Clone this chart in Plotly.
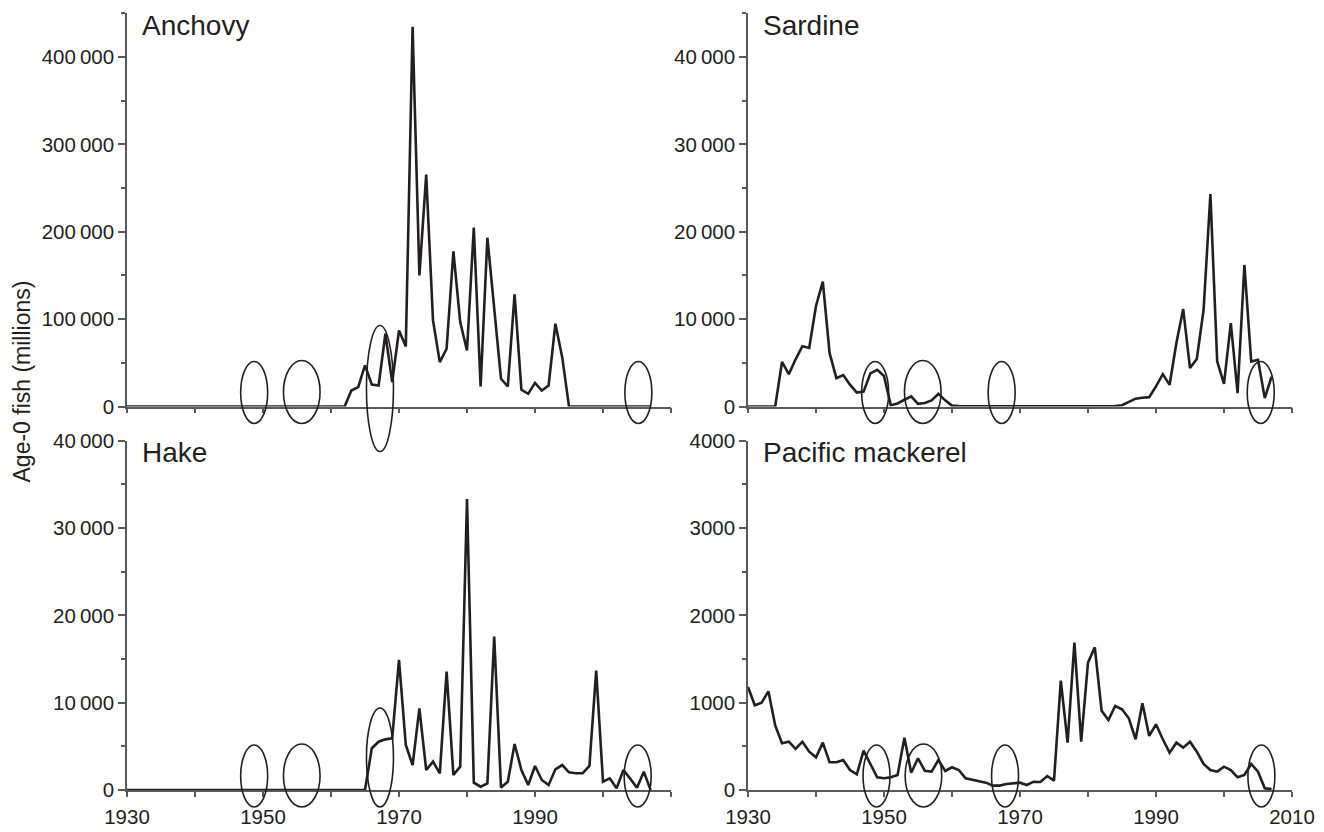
import plotly.graph_objects as go

# ---------------- data (age-0 fish, millions) ----------------
years = list(range(1930, 2008))

anchovy = [0, 0, 0, 0, 0, 0, 0, 0, 0, 0,
           0, 0, 0, 0, 0, 0, 0, 0, 0, 0,
           0, 0, 0, 0, 0, 0, 0, 0, 0, 0,
           0, 0, 0, 18300, 22100, 47000, 25200, 24000, 83300, 27900,
           87000, 68700, 434500, 150000, 265400, 98500, 50800, 66100, 177500, 96600,
           64100, 204700, 22900, 193200, 110000, 31700, 22900, 128300, 19100, 14500,
           27100, 18300, 24000, 94700, 56500, 0, 0, 0, 0, 0,
           0, 0, 0, 0, 0, 0, 0, 0]

sardine = [0, 0, 0, 0, 0, 5100, 3700, 5400, 6900, 6700,
           11500, 14300, 6100, 3250, 3600, 2500, 1600, 1700, 3800, 4200,
           3500, 150, 350, 770, 1150, 300, 400, 700, 1450, 700,
           100, 60, 40, 30, 20, 20, 15, 15, 10, 10,
           10, 10, 10, 10, 10, 10, 10, 15, 15, 20,
           20, 25, 30, 40, 50, 150, 550, 900, 1000, 1070,
           2300, 3700, 2480, 7260, 11150, 4400, 5430, 11070, 24300, 5150,
           2600, 9550, 1530, 16200, 5150, 5350, 960, 3430]

hake = [0, 0, 0, 0, 0, 0, 0, 0, 0, 0,
        0, 0, 0, 0, 0, 0, 0, 0, 0, 0,
        0, 0, 0, 0, 0, 0, 0, 0, 0, 0,
        0, 0, 0, 0, 0, 0, 4780, 5530, 5800, 5920,
        14890, 5150, 2860, 9350, 2290, 3250, 1910, 13550, 1720, 2670,
        33330, 840, 380, 760, 17560, 300, 950, 5270, 2290, 570,
        2750, 1150, 570, 2370, 2860, 2020, 1910, 1910, 2750, 13670,
        950, 1340, 190, 2290, 1300, 250, 2100, 0]

mackerel = [1180, 970, 1000, 1130, 740, 535, 553, 470, 553, 439,
            374, 542, 317, 317, 344, 229, 180, 450, 298, 145,
            134, 145, 172, 599, 198, 363, 221, 210, 344, 218,
            260, 229, 134, 115, 103, 84, 50, 50, 69, 76,
            84, 57, 95, 92, 160, 107, 1252, 542, 1687, 553,
            1458, 1634, 908, 802, 962, 924, 821, 581, 993, 619,
            752, 581, 428, 542, 485, 553, 439, 298, 229, 210,
            267, 229, 145, 172, 298, 210, 19, 10]

species = ["Anchovy", "Sardine", "Hake", "Pacific mackerel"]
series = [anchovy, sardine, hake, mackerel]
y_max = [450000, 45000, 40000, 4000]
y_major = [[0, 100000, 200000, 300000, 400000],
           [0, 10000, 20000, 30000, 40000],
           [0, 10000, 20000, 30000, 40000],
           [0, 1000, 2000, 3000, 4000]]
y_major_text = [["0", "100\u2009000", "200\u2009000", "300\u2009000", "400\u2009000"],
                ["0", "10\u2009000", "20\u2009000", "30\u2009000", "40\u2009000"],
                ["0", "10\u2009000", "20\u2009000", "30\u2009000", "40\u2009000"],
                ["0", "1000", "2000", "3000", "4000"]]
y_minor = [[50000, 150000, 250000, 350000, 450000],
           [5000, 15000, 25000, 35000, 45000],
           [5000, 15000, 25000, 35000],
           [500, 1500, 2500, 3500]]
x_ticks = [1930, 1940, 1950, 1960, 1970, 1980, 1990, 2000, 2010]
x_text_left = ["1930", "", "1950", "", "1970", "", "1990", "", ""]
x_text_right = ["1930", "", "1950", "", "1970", "", "1990", "", "2010"]
# circled years in each panel (centre year, kind)
circled = [[(1948.7, "n"), (1955.7, "w"), (1967.2, "tallA"), (2005.2, "n")],
           [(1948.7, "n"), (1955.7, "w"), (1967.3, "n"), (2005.4, "n")],
           [(1948.7, "n"), (1955.7, "w"), (1967.2, "tallH"), (2005.1, "n")],
           [(1948.9, "n"), (1955.8, "w"), (1967.8, "n"), (2005.5, "n")]]

# ---------------- layout geometry (pixels) ----------------
W, H = 1324, 832
XPX = [(127, 671), (748, 1292), (127, 671), (748, 1292)]
YPX = [(13.3, 406.5), (13.3, 406.5), (440.7, 790), (440.7, 790)]
X0, X1 = 1930, 2010
INK = "#231f20"
AX = "#58595b"
FONT = "Liberation Sans, Arial, Helvetica, sans-serif"
# ellipse sizes in px: half width, px above baseline, px below baseline
ELL = {"n": (13.5, 45, 17), "w": (18.3, 46, 17), "tallA": (13.5, 81, 45), "tallH": (13.5, 82, 17)}

fig = go.Figure()
shapes = []
annotations = []
for i in range(4):
    sfx = "" if i == 0 else str(i + 1)
    xa, ya = "x" + sfx, "y" + sfx
    fig.add_trace(go.Scatter(x=years, y=series[i], mode="lines", xaxis=xa, yaxis=ya,
                             line=dict(color=INK, width=2.6), showlegend=False,
                             hoverinfo="x+y"))
    xl, xr = XPX[i]
    yt, yb = YPX[i]
    bottom = i >= 2
    fig.layout["xaxis" + sfx] = dict(
        domain=[xl / W, xr / W], range=[X0, X1], anchor=ya,
        tickmode="array", tickvals=x_ticks,
        ticktext=(x_text_left if i % 2 == 0 else x_text_right),
        showticklabels=bottom, ticks="outside", ticklen=5, tickwidth=1.5, tickcolor=AX,
        showline=True, linecolor=AX, linewidth=1.5, showgrid=False, zeroline=False,
        tickfont=dict(family=FONT, size=20.5, color=INK), ticklabelstandoff=3,
        fixedrange=True)
    fig.layout["yaxis" + sfx] = dict(
        domain=[1 - yb / H, 1 - yt / H], range=[0, y_max[i]], anchor=xa,
        tickmode="array", tickvals=y_major[i], ticktext=y_major_text[i],
        ticks="outside", ticklen=7, tickwidth=1.5, tickcolor=AX,
        minor=dict(tickmode="array", tickvals=y_minor[i], ticks="outside", ticklen=4,
                   tickwidth=1.5, tickcolor=AX, showgrid=False),
        showline=True, linecolor=AX, linewidth=1.5, showgrid=False, zeroline=False,
        tickfont=dict(family=FONT, size=20.5, color=INK), fixedrange=True)
    # panel title
    annotations.append(dict(text=species[i], xref="paper", yref="paper",
                            x=(xl + 13) / W, y=1 - (yt + 12) / H,
                            xanchor="left", yanchor="middle", showarrow=False,
                            font=dict(family=FONT, size=28, color=INK)))
    # ellipses around circled years
    for yr, kind in circled[i]:
        hw, up, down = ELL[kind]
        cx = xl + (yr - X0) / (X1 - X0) * (xr - xl)
        shapes.append(dict(type="circle", xref="paper", yref="paper",
                           x0=(cx - hw) / W, x1=(cx + hw) / W,
                           y0=1 - (yb + down) / H, y1=1 - (yb - up) / H,
                           line=dict(color=INK, width=1.6), layer="above"))

annotations.append(dict(text="Age-0 fish (millions)", xref="paper", yref="paper",
                        x=21 / W, y=1 - 381.5 / H, textangle=-90,
                        xanchor="center", yanchor="middle", showarrow=False,
                        font=dict(family=FONT, size=23, color=INK)))

fig.update_layout(width=W, height=H, template="none",
                  margin=dict(l=0, r=0, t=0, b=0, autoexpand=False),
                  paper_bgcolor="white", plot_bgcolor="white",
                  shapes=shapes, annotations=annotations, showlegend=False)

fig.write_html("out.html", config={"displayModeBar": False},
               post_script="document.body.style.margin='0';"
                           "document.body.style.padding='0';"
                           "document.body.style.overflow='hidden';")
